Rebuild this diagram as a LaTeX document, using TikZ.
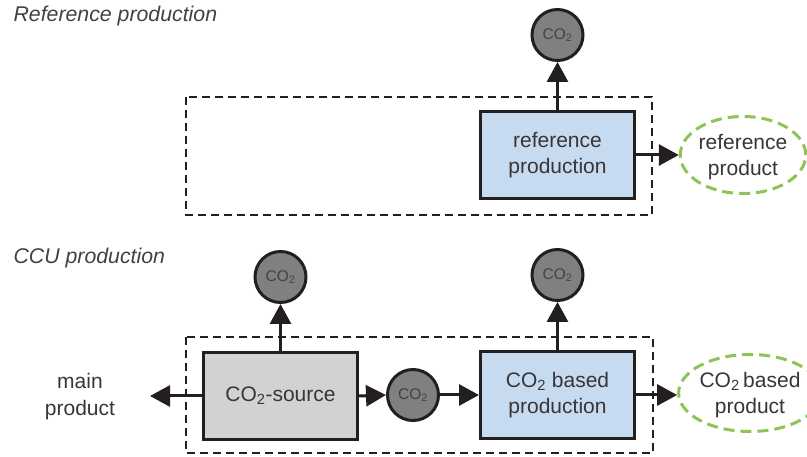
\documentclass[tikz,border=0pt]{standalone}
\usepackage{fontspec}
\setmainfont{Liberation Sans}
\usetikzlibrary{arrows.meta,shapes.geometric}

\definecolor{procblue}{RGB}{198,218,240}
\definecolor{srcgrey}{RGB}{210,210,212}
\definecolor{gasgrey}{RGB}{128,128,128}
\definecolor{prodgreen}{RGB}{141,196,88}
\definecolor{ink}{RGB}{35,31,32}

\newcommand{\cotwo}{CO\textsubscript{2}}

\tikzset{
  heading/.style={anchor=base west, font=\fontsize{21.3}{25}\selectfont\itshape, text=ink!85},
  procbox/.style={draw=ink, line width=3pt, minimum width=154pt, minimum height=87pt,
    align=center, font=\fontsize{21}{26}\selectfont, text=ink!90, inner sep=0pt},
  gas/.style={circle, draw=ink, line width=3pt, fill=gasgrey, minimum size=51pt,
    inner sep=0pt, font=\fontsize{15.5}{18}\selectfont, text=ink!85},
  product/.style={ellipse, draw=prodgreen, line width=3pt, dash pattern=on 11pt off 6pt,
    align=center, inner sep=0pt, text depth=0pt, font=\fontsize{21}{26}\selectfont, text=ink!90},
  boundary/.style={draw=ink, line width=2pt, dash pattern=on 8pt off 5pt},
  flow/.style={draw=ink, line width=3pt, -{Triangle[length=20pt,width=21pt]}},
  plain/.style={align=center, font=\fontsize{21}{27}\selectfont, text=ink!90, inner sep=0pt}
}

\begin{document}
\begin{tikzpicture}[x=1pt, y=-1pt]
  \useasboundingbox (0,0) rectangle (807,457);

  % ---------- reference route ----------
  \node[heading] (h1) at (10,22) {Reference production};
  \draw[boundary] (186,97) rectangle (652,215);

  \node[procbox, fill=procblue] (refbox) at (557.5,155) {reference\\production};
  \node[gas] (refgas) at (557.5,35) {\cotwo};
  \node[product, minimum width=124pt, minimum height=77pt] (refprod) at (743,155)
    {reference\\product};

  \draw[flow] (refbox.north) -- (refgas.south);
  \draw[flow] (refbox.east) -- (refbox.east -| refprod.west);

  % ---------- CCU route ----------
  \node[heading] (h2) at (10,264) {CCU production};
  \draw[boundary] (186,337) rectangle (653,453);

  \node[procbox, fill=srcgrey] (srcbox) at (280.5,396) {\cotwo-source};
  \node[gas] (srcgas) at (280.5,277) {\cotwo};
  \node[gas] (midgas) at (413,395) {\cotwo};
  \node[procbox, fill=procblue] (ccubox) at (557.5,395) {\cotwo\ based\\production};
  \node[gas] (ccugas) at (557.5,275) {\cotwo};
  \node[product, minimum width=116pt, minimum height=77pt] (ccuprod) at (750,393)
    {\cotwo\,based\\product};

  \node[plain] (mainprod) at (80,397) {main\\product};
  \coordinate (mainend) at (150,396);

  \draw[flow] (srcbox.north) -- (srcgas.south);
  \draw[flow] (srcbox.west) -- (mainend);
  \draw[flow] (srcbox.east) -- (midgas.west);
  \draw[flow] (midgas.east) -- (ccubox.west);
  \draw[flow] (ccubox.north) -- (ccugas.south);
  \draw[flow] (ccubox.east) -- (ccubox.east -| ccuprod.west);
\end{tikzpicture}
\end{document}
